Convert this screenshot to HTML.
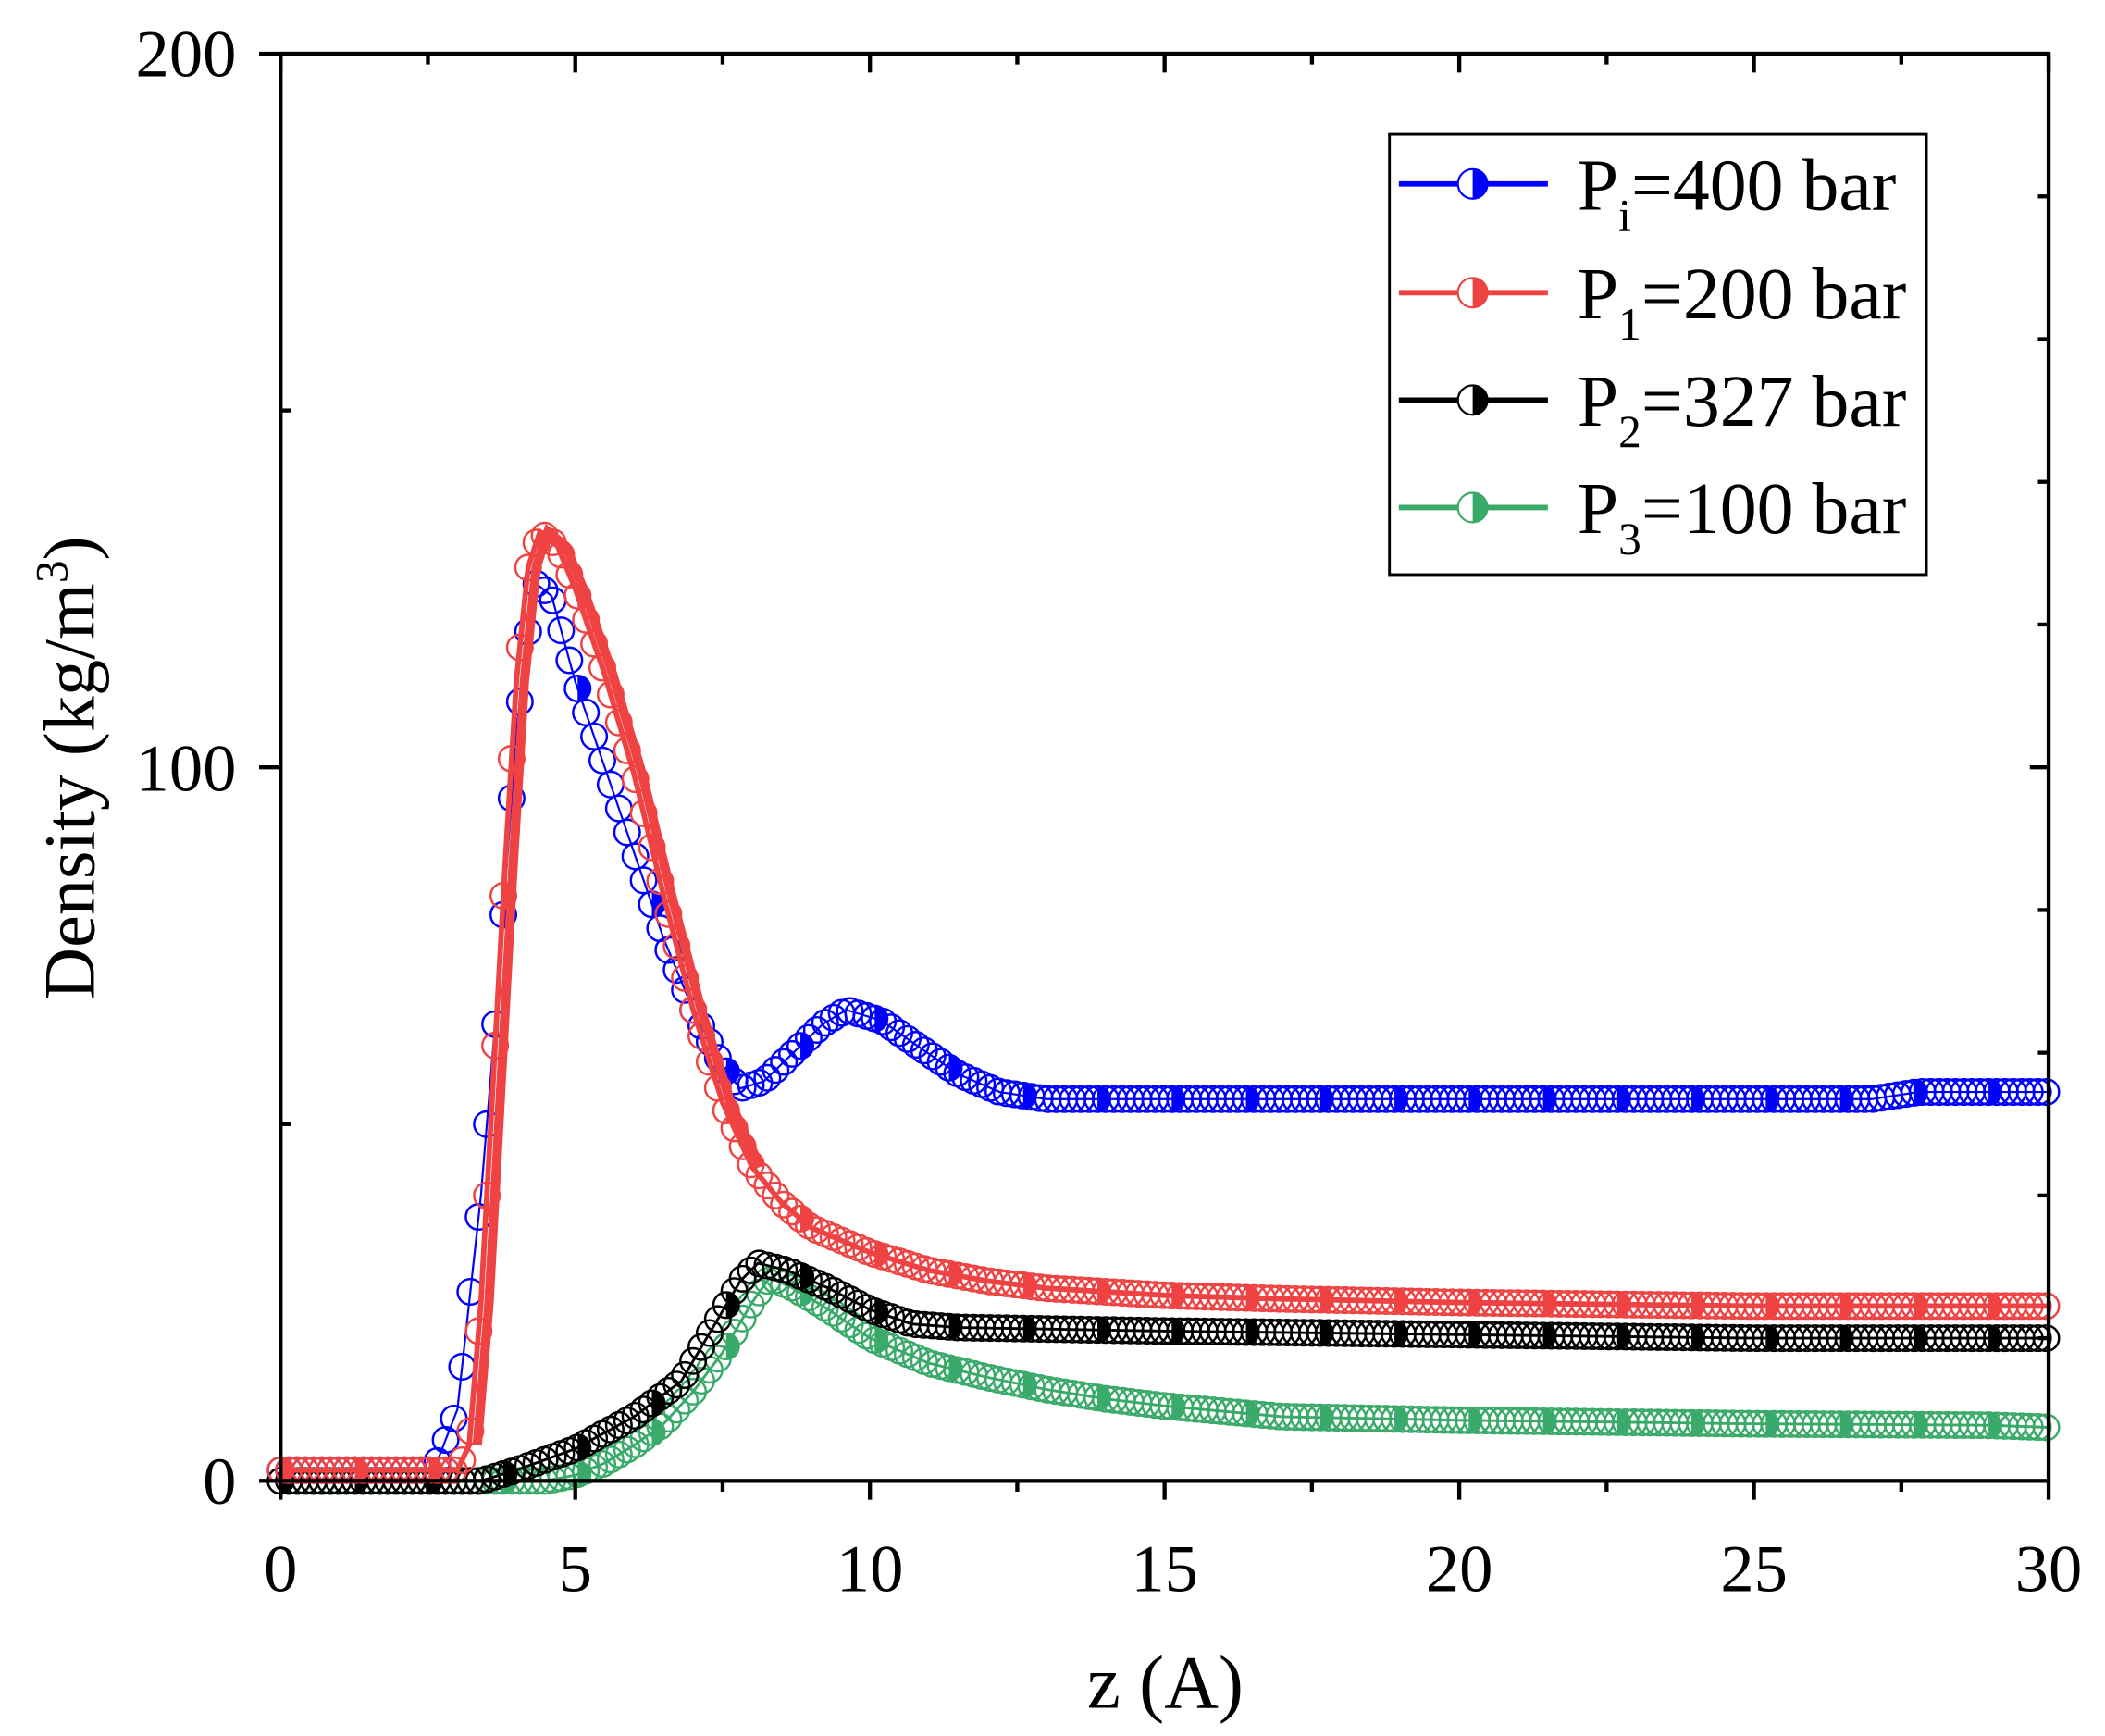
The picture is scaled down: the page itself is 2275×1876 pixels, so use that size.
<!DOCTYPE html>
<html><head><meta charset="utf-8"><style>
html,body{margin:0;padding:0;background:#fff;}
svg{display:block;}
text{font-family:"Liberation Serif","DejaVu Serif",serif;fill:#000;}
</style></head><body>
<svg id="s" width="2275" height="1876" viewBox="0 0 1568 1293" preserveAspectRatio="none" xmlns="http://www.w3.org/2000/svg">
<g id="data"></g>
<rect x="209" y="40" width="1317" height="1063" fill="none" stroke="#000" stroke-width="3"/>
<g id="ticks" stroke="#000" stroke-width="3"></g>
<g font-size="50" text-anchor="middle">
<text x="209" y="1185">0</text><text x="428.5" y="1185">5</text><text x="648" y="1185">10</text>
<text x="867.5" y="1185">15</text><text x="1087" y="1185">20</text><text x="1306.5" y="1185">25</text><text x="1526" y="1185">30</text>
</g>
<g font-size="50" text-anchor="end">
<text x="176" y="1120">0</text><text x="176" y="589">100</text><text x="176" y="57">200</text>
</g>
<text x="868" y="1272" font-size="56" text-anchor="middle">z (A)</text>
<text transform="translate(70,572) rotate(-90)" font-size="54" text-anchor="middle">Density (kg/m<tspan font-size="34" dy="-20">3</tspan><tspan dy="20">)</tspan></text>
<rect x="1035" y="100" width="400" height="328" fill="#fff" stroke="#000" stroke-width="2"/>
<g id="leg"></g>
<g font-size="55">
<text x="1175" y="156">P<tspan font-size="34" dy="16">i</tspan><tspan dy="-16">=400 bar</tspan></text>
<text x="1175" y="237">P<tspan font-size="34" dy="16">1</tspan><tspan dy="-16">=200 bar</tspan></text>
<text x="1175" y="317">P<tspan font-size="34" dy="16">2</tspan><tspan dy="-16">=327 bar</tspan></text>
<text x="1175" y="397">P<tspan font-size="34" dy="16">3</tspan><tspan dy="-16">=100 bar</tspan></text>
</g>
</svg>
<script>
var NS="http://www.w3.org/2000/svg";
function X(z){return 209+43.9*z;}
function Y(r){return 1103-5.315*r;}
function el(p,n,a){var e=document.createElementNS(NS,n);for(var k in a)e.setAttribute(k,a[k]);p.appendChild(e);return e;}
var T=document.getElementById("ticks");
for(var i=0;i<=12;i++){var z=i*2.5,x=X(z),maj=(i%2==0);
 el(T,"line",{x1:x,y1:1103,x2:x,y2:1103+(maj?14:8)});
 el(T,"line",{x1:x,y1:40,x2:x,y2:40+(maj?14:8)});}
[0,100,200].forEach(function(v){el(T,"line",{x1:193,y1:Y(v),x2:209,y2:Y(v)});});
[50,150].forEach(function(v){el(T,"line",{x1:209,y1:Y(v),x2:217,y2:Y(v)});});
for(var v=20;v<200;v+=20){el(T,"line",{x1:1526,y1:Y(v),x2:(v%100==0?1512:1518),y2:Y(v)});}
var series=[
 {c:"#0000ff",lw:1.5,p:[[0,1.5],[2.6,1.5],[3.0,10],[3.4,40],[3.7,70],[4.0,105],[4.3,126],[4.6,124],[5,112],[5.5,100],[6,88],[6.5,76],[7,66],[7.5,58],[7.8,55],[8.2,56],[8.7,60],[9.2,64],[9.6,66],[10.2,64.5],[10.8,61],[11.5,57],[12.2,54.5],[13,53.5],[20,53.5],[27,53.5],[27.8,54.5],[30,54.5]]},
 {c:"#ef4343",lw:4,p:[[0,1.5],[3.0,1.5],[3.2,5],[3.4,25],[3.6,55],[3.8,85],[4.0,112],[4.2,128],[4.4,133],[4.7,131],[5,125],[5.5,113],[6,99],[6.5,82],[7,66],[7.5,53],[8,44],[8.5,39],[9,35.5],[10,32],[11,29.5],[12,28],[13,27],[15,26],[17,25.5],[20,25],[25,24.5],[30,24.5]]},
 {c:"#000000",lw:2,p:[[0,0],[3.4,0],[4,1.5],[5,4.5],[6,9],[6.8,14],[7.3,21],[7.8,28],[8.1,30.5],[8.6,29.5],[9.3,27],[10,24],[10.7,22],[11.5,21.5],[15,21],[20,20.5],[25,20],[30,20]]},
 {c:"#3aaa6a",lw:2,p:[[0,0],[4.5,0],[5,0.8],[5.5,2.5],[6,5],[6.5,8],[7,12.5],[7.5,18],[8,25],[8.3,28.5],[8.7,27],[9.3,24],[10,20],[11,16.5],[12,14.5],[13,12.8],[14,11.5],[15,10.5],[17,9],[20,8.5],[25,8],[29,7.8],[30,7.5]]}
];
function interp(p,z){for(var i=0;i<p.length-1;i++){if(z<=p[i+1][0]){var t=(z-p[i][0])/(p[i+1][0]-p[i][0]);return p[i][1]+t*(p[i+1][1]-p[i][1]);}}return p[p.length-1][1];}
var D=document.getElementById("data"),R=9.5;
[3,2,0,1].forEach(function(si){var s=series[si];var g=el(D,"g",{});
 var pts=s.p.map(function(q){return X(q[0])+","+Y(q[1]);}).join(" ");
 el(g,"polyline",{points:pts,fill:"none",stroke:s.c,"stroke-width":s.lw});
 if(si==1){var pts2=s.p.filter(function(q){return q[0]>=3.1&&q[0]<=8;}).map(function(q){return (X(q[0])+6)+","+Y(q[1]);}).join(" ");
  el(g,"polyline",{points:pts2,fill:"none",stroke:s.c,"stroke-width":7});}
 var n=0;
 for(var z=0;z<=30.001;z+=0.14){var x=X(z),y=Y(interp(s.p,z));
  el(g,"circle",{cx:x,cy:y,r:R,fill:"none",stroke:s.c,"stroke-width":1.7});
  if(n%9==0) el(g,"path",{d:"M"+x+","+(y-R)+" A"+R+","+R+" 0 0 1 "+x+","+(y+R)+"Z",fill:s.c});
  n++;}
});
var L=document.getElementById("leg");
[[137,"#0000ff"],[218,"#ef4343"],[298,"#000000"],[378,"#3aaa6a"]].forEach(function(a){
 el(L,"line",{x1:1042,y1:a[0],x2:1153,y2:a[0],stroke:a[1],"stroke-width":4});
 el(L,"circle",{cx:1097,cy:a[0],r:11,fill:"#fff",stroke:a[1],"stroke-width":1.5});
 el(L,"path",{d:"M1097,"+(a[0]-11)+" A11,11 0 0 1 1097,"+(a[0]+11)+"Z",fill:a[1]});
});
</script>
</body></html>
